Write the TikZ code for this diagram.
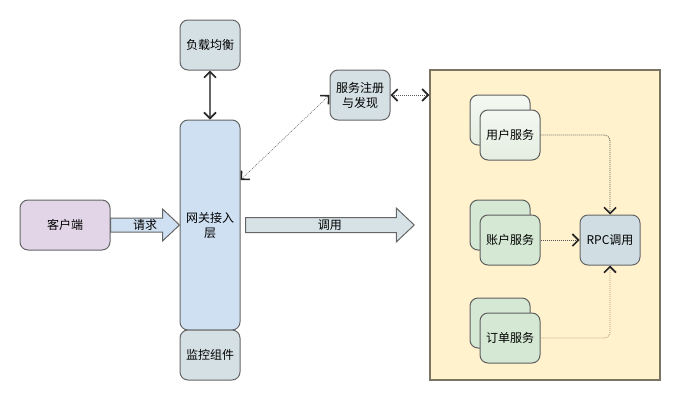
\documentclass[tikz,border=0pt]{standalone}
\usepackage{fontspec}
\setmainfont{Noto Sans CJK SC}
\usepackage{xcolor}
\usepackage{tikz}
\usetikzlibrary{arrows.meta,calc}

\definecolor{clientfill}{HTML}{E1D5E7}
\definecolor{gatefill}{HTML}{CFE0F3}
\definecolor{infrafill}{HTML}{D5E0E4}
\definecolor{callfill}{HTML}{D6E2E6}
\definecolor{poolfill}{HTML}{FFF2CC}
\definecolor{poolline}{HTML}{7A7463}
\definecolor{svcfill}{HTML}{D5E8D4}
\definecolor{userfill}{HTML}{E4EEE0}
\definecolor{rpcfill}{HTML}{D0DEE4}
\definecolor{boxline}{HTML}{666666}
\definecolor{svcline}{HTML}{5F5F5F}
\definecolor{callline}{HTML}{B39B7A}

\begin{document}
\begin{tikzpicture}[
    x=1pt, y=-1pt,
    every node/.style={align=center, font=\fontsize{12}{15}\selectfont},
    >={Straight Barb[length=6pt,width=12pt,line width=1.6pt,color=black!85]},
    box/.style={
        rectangle,
        rounded corners=8pt,
        draw=boxline,
        line width=1pt,
        fill=infrafill,
        minimum width=60pt,
        minimum height=50pt,
        inner sep=0pt
    },
    svc/.style={box, draw=svcline, fill=svcfill},
    dotline/.style={draw=gray!70!black, line width=0.8pt, dash pattern=on 1pt off 1pt},
    bigarrow/.style={draw=boxline, line width=1pt, fill=#1}
]
\useasboundingbox (0,0) rectangle (680,400);

\node[box, fill=clientfill, minimum width=90pt] (client) at (65,225) {客户端};
\node[box, fill=gatefill, minimum height=210pt] (gateway) at (210,225) {网关接入\\层};
\node[box] (lb) at (210,45) {负载均衡};
\node[box] (monitor) at (210,355) {监控组件};
\node[box] (reg) at (360,95) {服务注册\\与发现};

\node[rectangle, draw=poolline, line width=1.5pt, fill=poolfill, minimum width=230pt, minimum height=310pt] (pool) at (545,225) {};

\node[svc, top color=userfill!40!white, bottom color=userfill] (userbak) at (500,120) {};
\node[svc, top color=userfill!40!white, bottom color=userfill] (user) at (510,135) {用户服务};
\node[svc] (acctbak) at (500,225) {};
\node[svc] (acct) at (510,240) {账户服务};
\node[svc] (orderbak) at (500,323) {};
\node[svc] (order) at (510,338) {订单服务};
\node[box, fill=rpcfill] (rpc) at (610,240) {RPC调用};

\draw[bigarrow=gatefill] let \p1=(client.east), \p2=(gateway.west) in
    (\x1,\y1+7) -- (\x2-17,\y1+7) -- (\x2-17,\y1+16) -- (\x2,\y1)
    -- (\x2-17,\y1-16) -- (\x2-17,\y1-7) -- (\x1,\y1-7) -- cycle;
\node (reqlbl) at ($(client.east)!0.5!(gateway.west)$) {请求};

\draw[bigarrow=callfill] let \p1=([xshift=5pt]gateway.east), \p2=([xshift=-15pt]pool.west) in
    (\x1,\y1+7.5) -- (\x2-18,\y1+7.5) -- (\x2-18,\y1+17) -- (\x2,\y1)
    -- (\x2-18,\y1-17) -- (\x2-18,\y1-7.5) -- (\x1,\y1-7.5) -- cycle;
\node (calllbl) at ($([xshift=5pt]gateway.east)!0.5!([xshift=-15pt]pool.west)$) {调用};

\draw[<->, draw=boxline, line width=1.5pt] (lb) -- (gateway);
\draw[<->, dotline, line width=0.5pt] ([yshift=45pt]gateway.east) -- (reg.west);
\draw[<->, dotline] (reg.east) -- (reg.east -| pool.west);

\draw[->, dotline, rounded corners=6pt] (user.east) -| (rpc.north);
\draw[->, dotline] (acct.east) -- (rpc.west);
\draw[->, dotline, draw=callline, rounded corners=6pt] (order.east) -| (rpc.south);
\end{tikzpicture}
\end{document}
